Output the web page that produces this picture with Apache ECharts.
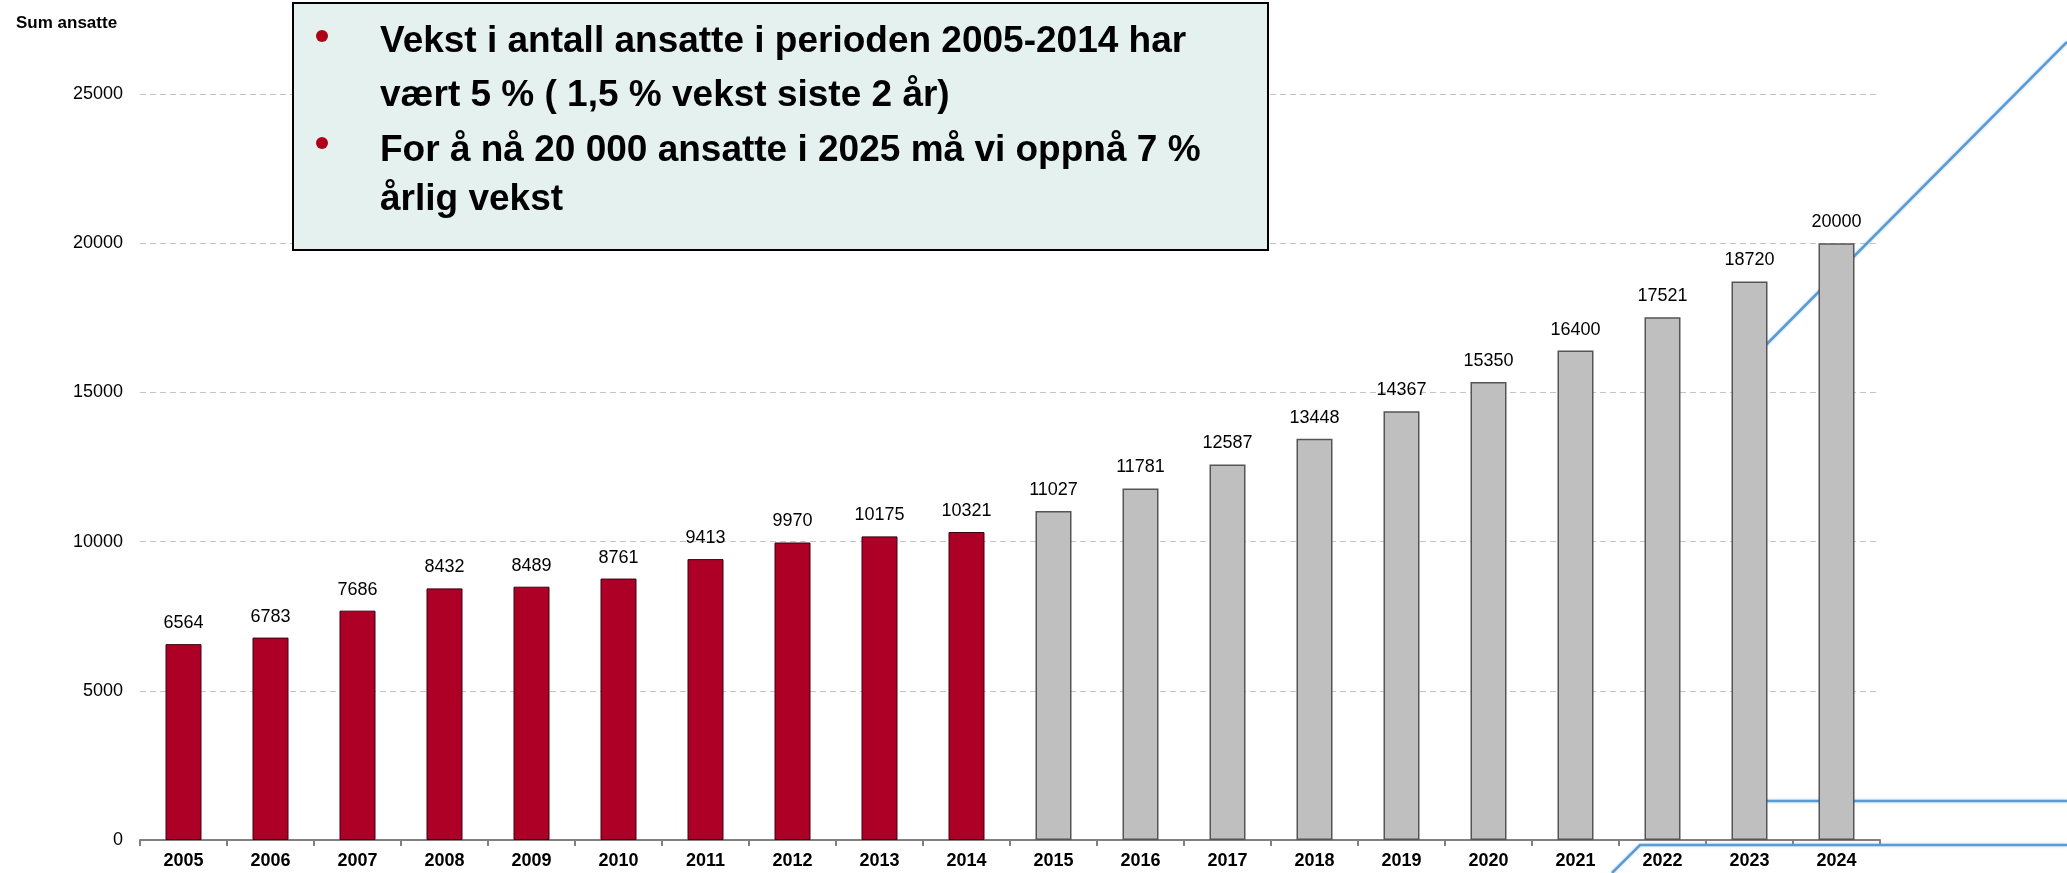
<!DOCTYPE html>
<html>
<head>
<meta charset="utf-8">
<script src="https://cdn.jsdelivr.net/npm/echarts@6/dist/echarts.min.js"></script>
<style>
html,body{margin:0;padding:0;background:#fff}
#ansatte{width:2067px;height:873px}
</style>
</head>
<body>
<div id="ansatte"></div>
<script>
let years = ['2005','2006','2007','2008','2009','2010','2011','2012','2013','2014',
             '2015','2016','2017','2018','2019','2020','2021','2022','2023','2024']
// faktiske tall 2005-2014
let faktisk = [6564,6783,7686,8432,8489,8761,9413,9970,10175,10321,
               '-','-','-','-','-','-','-','-','-','-']
// mål 2015-2024 (7 % årlig vekst)
let maal = ['-','-','-','-','-','-','-','-','-','-',
            11027,11781,12587,13448,14367,15350,16400,17521,18720,20000]
let yMin = 0, yMax = 25000, yStep = 5000
let punkt1 = ['Vekst i antall ansatte i perioden 2005-2014 har', 'vært 5 % ( 1,5 % vekst siste 2 år)']
let punkt2 = ['For å nå 20 000 ansatte i 2025 må vi oppnå 7 %', 'årlig vekst']

let dom = document.getElementById('ansatte')
let myChart = echarts.init(dom)

let boxFont = 'bold 37px "Liberation Sans", Arial, sans-serif'
let textLine = function(txt, y){
  return {
    type:'text', x:380, y:y, z:101, silent:true,
    style:{ text:txt, fill:'#000', font:boxFont, align:'left', verticalAlign:'middle' }
  }
}
let bullet = function(y){
  return {
    type:'circle', z:101, silent:true,
    shape:{ cx:322, cy:y, r:6 },
    style:{ fill:'#AE0016' }
  }
}
let blue = { stroke:'#5B9BD5', lineWidth:2.5, shadowBlur:3, shadowColor:'rgba(91,155,213,0.45)' }

let valueLabel = {
  show:true,
  position:'top',
  distance:12,
  color:'#000',
  fontSize:18,
  fontFamily:'"Liberation Sans", Arial, sans-serif'
}

let option = {
  animation:false,
  title:{
    text:'Sum ansatte',
    left:11, top:10,
    textStyle:{ fontSize:17, fontWeight:'bold', color:'#000', fontFamily:'"Liberation Sans", Arial, sans-serif' }
  },
  grid:{ left:140, right:187, top:94, bottom:33 },
  xAxis:{
    type:'category',
    data:years,
    axisLine:{ lineStyle:{ color:'#808080', width:2 } },
    axisTick:{ show:true, length:6, lineStyle:{ color:'#808080', width:2 } },
    axisLabel:{ color:'#000', fontSize:18, fontWeight:'bold', margin:12, fontFamily:'"Liberation Sans", Arial, sans-serif' }
  },
  yAxis:{
    type:'value',
    min:yMin, max:yMax, interval:yStep,
    axisLine:{ show:false },
    axisTick:{ show:false },
    axisLabel:{
      color:'#000', fontSize:18, margin:17, fontFamily:'"Liberation Sans", Arial, sans-serif',
      formatter:function(value){ return value + '' }
    },
    splitLine:{ lineStyle:{ color:'#c4c4c4', type:[6,4], width:1 } }
  },
  graphic:[
    // blå hjelpelinjer til høyre (bak søylene)
    { type:'polyline', z:1, silent:true, shape:{ points:[[2067,42],[1745,366]] }, style:blue },
    { type:'polyline', z:1, silent:true, shape:{ points:[[1760,801],[2067,801]] }, style:blue },
    { type:'polyline', z:1, silent:true, shape:{ points:[[1612,873],[1640,845],[2067,845]] }, style:blue },
    // tekstboks
    { type:'rect', z:100, silent:true,
      shape:{ x:293, y:3, width:975, height:247 },
      style:{ fill:'#E5F1EE', stroke:'#000', lineWidth:2 } },
    bullet(36),
    bullet(143),
    textLine(punkt1[0], 42),
    textLine(punkt1[1], 96),
    textLine(punkt2[0], 151),
    textLine(punkt2[1], 200)
  ],
  series:[
    {
      name:'Faktisk',
      type:'bar',
      stack:'ansatte',
      data:faktisk,
      barWidth:36,
      itemStyle:{ color:'#AE0026', borderColor:'#3a0010', borderWidth:1 },
      label:valueLabel
    },
    {
      name:'Mål',
      type:'bar',
      stack:'ansatte',
      data:maal,
      barWidth:36,
      itemStyle:{ color:'#BFBFBF', borderColor:'#555', borderWidth:1.5 },
      label:valueLabel
    }
  ]
}

myChart.setOption(option, true)

window.addEventListener('resize', function(){
  myChart.resize()
})
</script>
</body>
</html>
